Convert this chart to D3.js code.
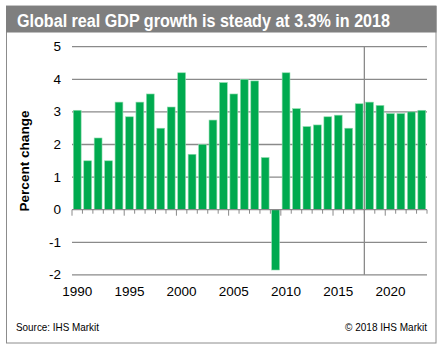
<!DOCTYPE html>
<html><head><meta charset="utf-8">
<script src="https://cdn.jsdelivr.net/npm/d3@7"></script>
<style>
html,body{margin:0;padding:0;background:#fff;}
svg{display:block;font-family:"Liberation Sans",Arial,sans-serif;}
</style></head>
<body>
<svg id="c" width="442" height="349"></svg>
<script>
const years = [1990,1991,1992,1993,1994,1995,1996,1997,1998,1999,2000,2001,2002,2003,2004,2005,2006,2007,2008,2009,2010,2011,2012,2013,2014,2015,2016,2017,2018,2019,2020,2021,2022,2023];
const growth = [3.05,1.5,2.2,1.5,3.3,2.85,3.3,3.55,2.5,3.15,4.2,1.7,2.0,2.75,3.9,3.55,4.0,3.95,1.6,-1.85,4.2,3.1,2.55,2.6,2.85,2.9,2.5,3.25,3.3,3.2,2.95,2.95,3.0,3.05];
const yTicks = [-2,-1,0,1,2,3,4,5];
const xLabelYears = [1990,1995,2000,2005,2010,2015,2020];
const forecastStart = 2018;
const titleText = "Global real GDP growth is steady at 3.3% in 2018";
const yTitle = "Percent change";
const sourceText = "Source:  IHS Markit";
const copyText = "\u00A9 2018  IHS Markit";

const svg = d3.select("#c");
// frame
svg.append("rect").attr("x",6.5).attr("y",6).attr("width",429.5).attr("height",337).attr("fill","#fff").attr("stroke","#8c8c8c").attr("stroke-width",1);
svg.append("rect").attr("x",6).attr("y",6).attr("width",430.5).attr("height",26.5).attr("fill","#7f7f7f");
svg.append("text").attr("x",17).attr("y",26.5).attr("fill","#fff").attr("font-weight","bold").attr("font-size",17.5)
  .attr("textLength",373).attr("lengthAdjust","spacingAndGlyphs").text(titleText);

const L=72, R=427, T=46.7, B=274.9;
const x = d3.scaleBand().domain(years).range([L,R]).paddingInner(0.25).paddingOuter(0.125);
const y = d3.scaleLinear().domain([-2,5]).range([B,T]);
const gap = (x.step()-x.bandwidth())/2;
const boundary = yr => x(yr)-gap;

// gridlines
svg.append("g").selectAll("line").data(yTicks.filter(t=>t!==0)).join("line")
  .attr("x1",L).attr("x2",R).attr("y1",d=>y(d)).attr("y2",d=>y(d))
  .attr("stroke","#8a8a8a").attr("stroke-width",1.3);

// y labels
svg.append("g").selectAll("text").data(yTicks).join("text")
  .attr("x",61).attr("y",d=>y(d)+4.5).attr("text-anchor","end")
  .attr("font-size",13.5).attr("fill","#000").text(d=>d);

// forecast line
svg.append("line").attr("x1",boundary(forecastStart)).attr("x2",boundary(forecastStart))
  .attr("y1",T).attr("y2",B).attr("stroke","#8a8a8a").attr("stroke-width",1.3);

// bars
svg.append("g").selectAll("rect").data(years).join("rect")
  .attr("x",d=>x(d)).attr("width",x.bandwidth())
  .attr("y",(d,i)=>y(Math.max(0,growth[i])))
  .attr("height",(d,i)=>Math.abs(y(growth[i])-y(0)))
  .attr("fill","#00aa4f").attr("stroke","#8fdcae").attr("stroke-width",0.6);

// zero axis
svg.append("line").attr("x1",L).attr("x2",R).attr("y1",y(0)).attr("y2",y(0)).attr("stroke","#8a8a8a").attr("stroke-width",1.3);
// ticks
const tickYears = years.concat([years[years.length-1]+1]);
svg.append("g").selectAll("line").data(tickYears).join("line")
  .attr("x1",d=> d<=years[years.length-1]? boundary(d) : R)
  .attr("x2",d=> d<=years[years.length-1]? boundary(d) : R)
  .attr("y1",y(0)).attr("y2",d=> (d%5===0||d===years[0]) ? y(0)+6 : y(0)+4)
  .attr("stroke","#8a8a8a").attr("stroke-width",1);

// x labels
svg.append("g").selectAll("text").data(xLabelYears).join("text")
  .attr("x",d=>x(d)+x.bandwidth()/2).attr("y",296).attr("text-anchor","middle")
  .attr("font-size",13.5).attr("fill","#000").text(d=>d);

// y title
svg.append("text").attr("transform","translate(29,161) rotate(-90)").attr("text-anchor","middle")
  .attr("font-weight","bold").attr("font-size",13.5).attr("fill","#000")
  .attr("textLength",101).attr("lengthAdjust","spacingAndGlyphs").text(yTitle);

svg.append("text").attr("x",16).attr("y",331).attr("font-size",10.5).attr("fill","#000")
  .attr("textLength",83).attr("lengthAdjust","spacingAndGlyphs").text(sourceText);
svg.append("text").attr("x",427).attr("y",331).attr("text-anchor","end").attr("font-size",10.5).attr("fill","#000")
  .attr("textLength",82).attr("lengthAdjust","spacingAndGlyphs").text(copyText);
</script>
</body></html>
